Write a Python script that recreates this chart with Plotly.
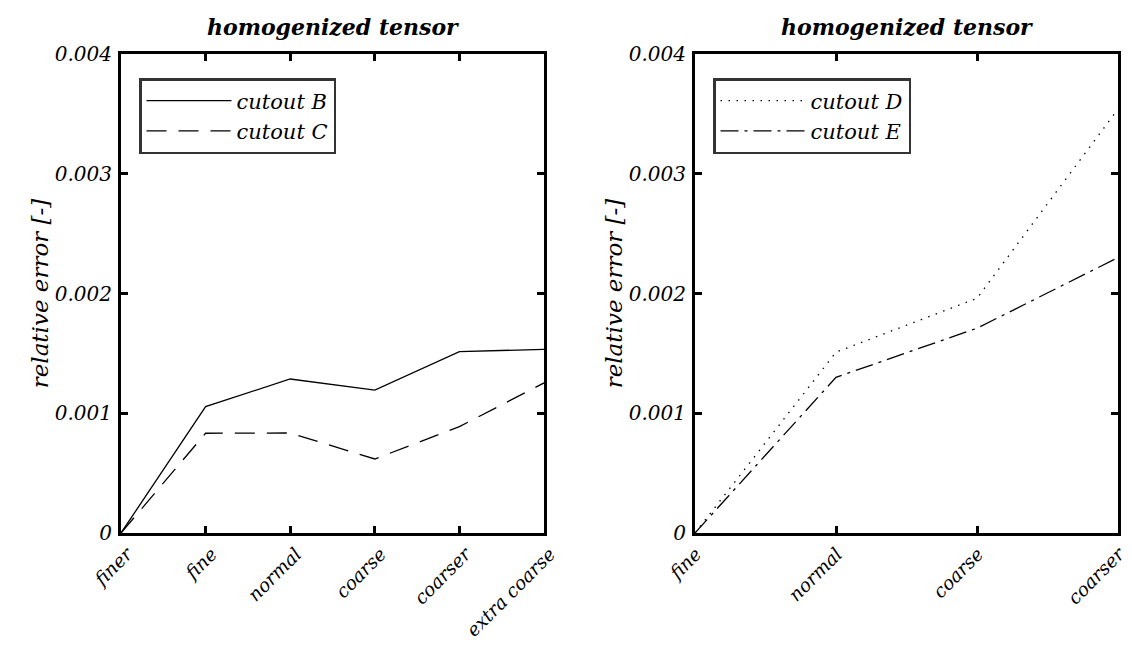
import plotly.graph_objects as go

# Mesh refinement levels and relative errors of the homogenized tensor
levels_left = ["finer", "fine", "normal", "coarse", "coarser", "extra coarse"]
err_cutout_b = [0.0, 0.001055, 0.001286, 0.001194, 0.001514, 0.001534]
err_cutout_c = [0.0, 0.000833, 0.000835, 0.000618, 0.000888, 0.001253]

levels_right = ["fine", "normal", "coarse", "coarser"]
err_cutout_d = [0.0, 0.001510, 0.001960, 0.003540]
err_cutout_e = [0.0, 0.001300, 0.001710, 0.002300]

y_ticks = [0, 0.001, 0.002, 0.003, 0.004]
y_tick_text = ["0", "0.001", "0.002", "0.003", "0.004"]

FONT = "DejaVu Serif"
LW = 1.3

fig = go.Figure()

fig.add_trace(go.Scatter(x=levels_left, y=err_cutout_b, mode="lines", name="cutout B",
                         line=dict(color="black", width=LW, dash="solid"),
                         xaxis="x", yaxis="y", legend="legend"))
fig.add_trace(go.Scatter(x=levels_left, y=err_cutout_c, mode="lines", name="cutout C",
                         line=dict(color="black", width=LW, dash="20px,12px"),
                         xaxis="x", yaxis="y", legend="legend"))
fig.add_trace(go.Scatter(x=levels_right, y=err_cutout_d, mode="lines", name="cutout D",
                         line=dict(color="black", width=LW, dash="1.5px,6.5px"),
                         xaxis="x2", yaxis="y2", legend="legend2"))
fig.add_trace(go.Scatter(x=levels_right, y=err_cutout_e, mode="lines", name="cutout E",
                         line=dict(color="black", width=LW, dash="18px,6px,3px,6px"),
                         xaxis="x2", yaxis="y2", legend="legend2"))

W, H = 1132, 645
# plot area in pixels
L, R, T, B = 121, 1118, 54, 533
PW, PH = R - L, B - T

axis_common = dict(
    showline=True, linewidth=3, linecolor="black", mirror="allticks",
    ticks="inside", ticklen=7, tickwidth=3, tickcolor="black",
    showgrid=False, zeroline=False, automargin=False,
)
y_tickfont = dict(family=FONT, size=20, style="italic", color="black")
x_tickfont = dict(family=FONT, size=18.5, style="italic", color="black")

title_font = dict(family=FONT, size=23, style="italic", color="black")

legend_common = dict(
    bgcolor="white", bordercolor="#333333", borderwidth=2.5,
    font=dict(family=FONT, size=21, style="italic", color="black"),
    itemwidth=85, tracegroupgap=0, xanchor="left", yanchor="top",
    itemclick=False,
)

fig.update_layout(
    width=W, height=H,
    margin=dict(l=L, r=W - R, t=T, b=H - B, autoexpand=False),
    paper_bgcolor="white", plot_bgcolor="white",
    showlegend=True,
    xaxis=dict(domain=[0, (544 - L) / PW], anchor="y", type="category",
               range=[0, 5], tickangle=-45, ticklabelshift=6,
               tickfont=x_tickfont, **axis_common),
    yaxis=dict(domain=[0, 1], anchor="x", range=[0, 0.004],
               tickvals=y_ticks, ticktext=y_tick_text, ticklabelstandoff=2,
               tickfont=y_tickfont,
               title=dict(text="relative error [-]", standoff=0, font=title_font),
               **axis_common),
    xaxis2=dict(domain=[(695 - L) / PW, 1], anchor="y2", type="category",
                range=[0, 3], tickangle=-45, ticklabelshift=1,
                tickfont=x_tickfont, **axis_common),
    yaxis2=dict(domain=[0, 1], anchor="x2", range=[0, 0.004],
                tickvals=y_ticks, ticktext=y_tick_text, ticklabelstandoff=2,
                tickfont=y_tickfont,
                title=dict(text="relative error [-]", standoff=0, font=title_font),
                **axis_common),
    legend=dict(x=(139 - L) / PW, y=1 - (78 - T) / PH, **legend_common),
    legend2=dict(x=(713 - L) / PW, y=1 - (78 - T) / PH, **legend_common),
    annotations=[
        dict(text="homogenized tensor", xref="paper", yref="paper",
             x=((121 + 544) / 2 - L) / PW, y=(B - 27) / PH,
             xanchor="center", yanchor="middle", showarrow=False,
             font=dict(family=FONT, size=22, style="italic", weight="bold", color="black")),
        dict(text="homogenized tensor", xref="paper", yref="paper",
             x=((695 + 1118) / 2 - L) / PW, y=(B - 27) / PH,
             xanchor="center", yanchor="middle", showarrow=False,
             font=dict(family=FONT, size=22, style="italic", weight="bold", color="black")),
    ],
)

fig.write_html("out.html")
